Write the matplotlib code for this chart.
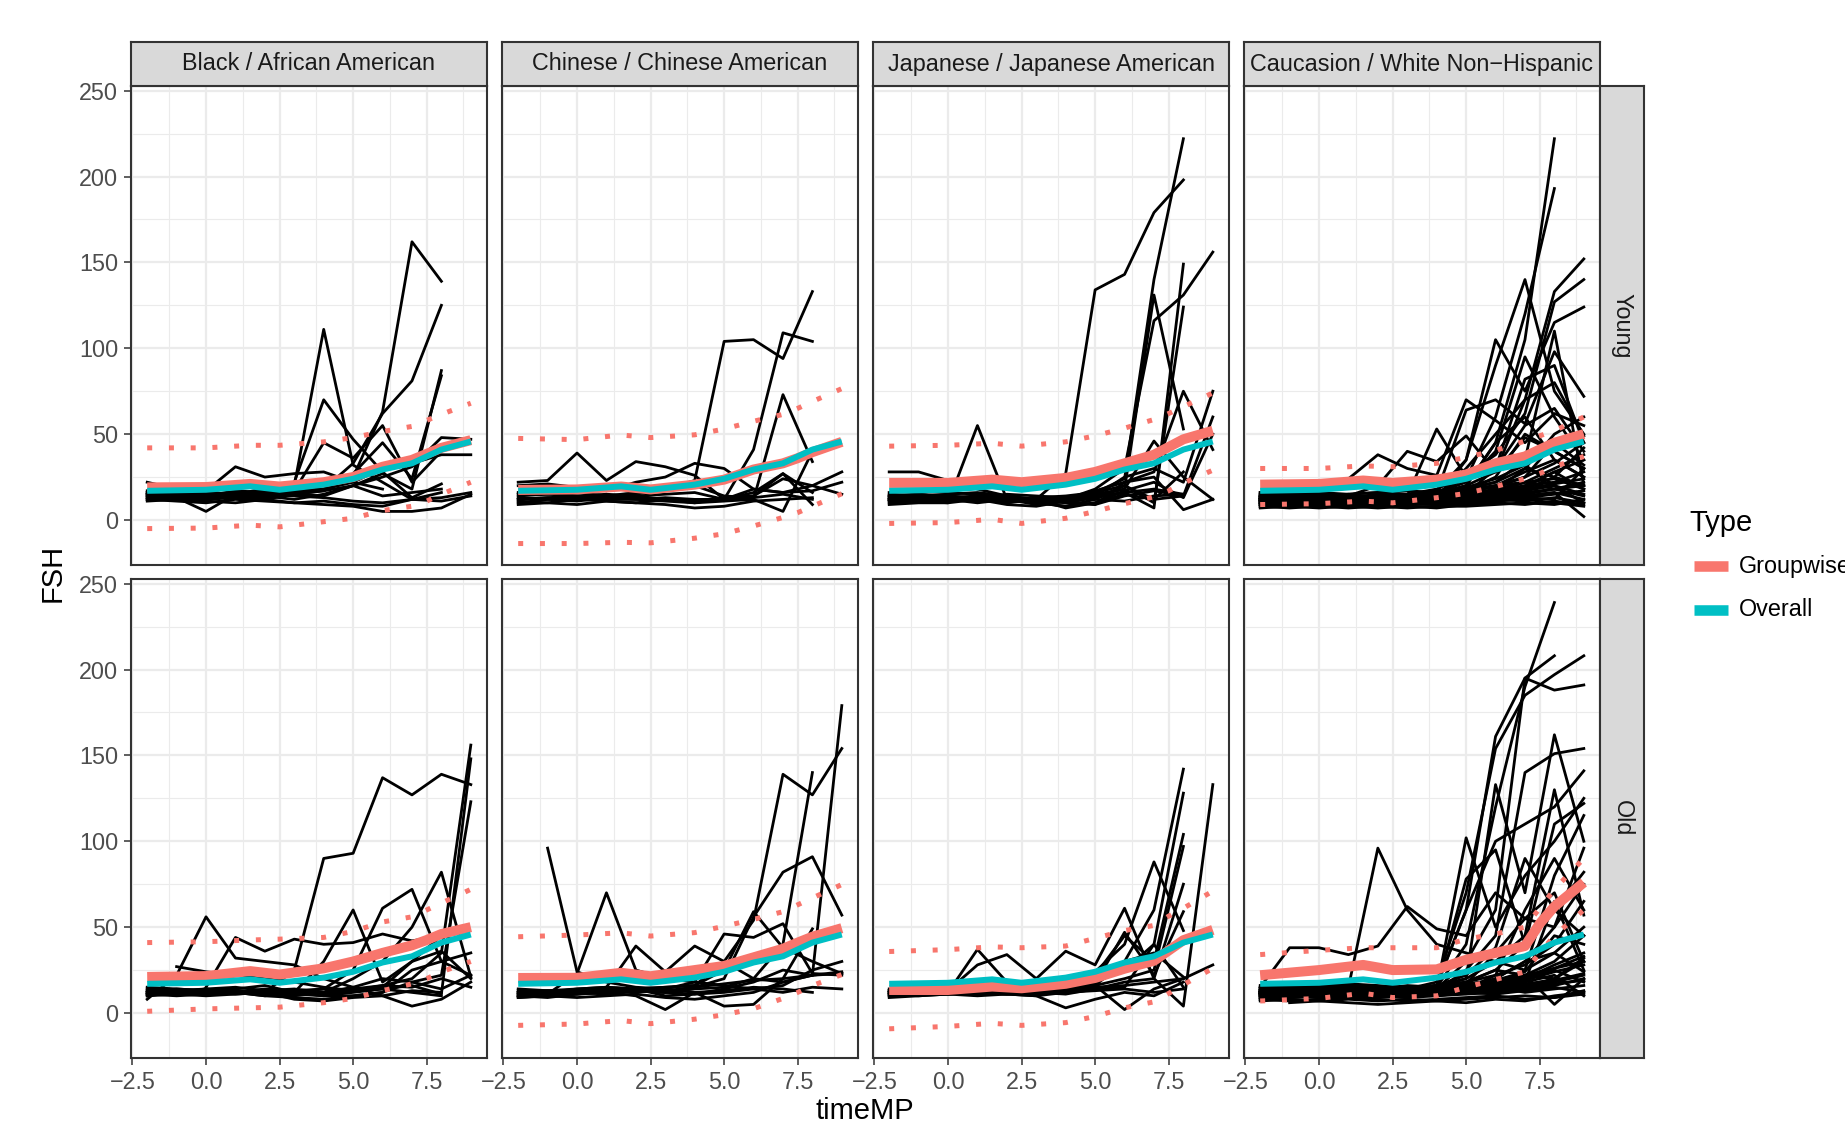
import numpy as np
import matplotlib
matplotlib.use("Agg")
import matplotlib.pyplot as plt
from matplotlib.lines import Line2D

plt.rcParams['font.family'] = ['Liberation Sans', 'DejaVu Sans']

# facet labels
races = ["Black / African American", "Chinese / Chinese American",
         "Japanese / Japanese American", "Caucasion / White Non\u2212Hispanic"]
ages = ["Young", "Old"]

# individual FSH trajectories, each (first timeMP, values at consecutive years)
black_young = [
    (-2, [14, 13, 12, 15, 14, 20, 111, 32, 22, 12, 16]),
    (-2, [12, 14, 13, 15, 12, 22, 70, 47, 28, 13, 21]),
    (-2, [16, 15, 17, 14, 19, 17, 45, 36, 55, 22, 40]),
    (-2, [15, 16, 14, 17, 16, 17, 18, 33, 62, 81, 125]),
    (-2, [13, 12, 14, 13, 12, 15, 14, 20, 27, 18, 87]),
    (-2, [14, 13, 15, 14, 16, 15, 17, 27, 45, 24, 84]),
    (-2, [16, 15, 14, 15, 13, 16, 20, 25, 63, 162, 139]),
    (-2, [15, 14, 16, 15, 14, 15, 17, 20, 25, 31, 48, 47]),
    (-2, [17, 16, 15, 16, 17, 16, 18, 22, 30, 33, 38, 38]),
    (-2, [12, 11, 10, 12, 11, 10, 9, 8, 5, 5, 7, 15]),
    (-2, [11, 12, 11, 10, 12, 10, 11, 9, 8, 12, 13, 16]),
    (-2, [22, 18, 17, 31, 25, 27, 28, 22, 18]),
    (-2, [15, 13, 5, 15, 14, 12, 15, 20, 14, 16, 18]),
    (-2, [13, 14, 12, 13, 15, 14, 13, 11, 10, 12, 11, 14]),
]
chinese_young = [
    (-2, [14, 15, 14, 13, 15, 18, 23, 104, 105, 94, 133]),
    (-2, [12, 13, 12, 14, 13, 12, 12, 12, 41, 109, 104]),
    (-2, [13, 12, 13, 12, 14, 15, 16, 12, 12, 73, 34]),
    (-2, [22, 23, 39, 23, 34, 31, 26, 12, 16, 27, 9]),
    (-2, [20, 21, 19, 17, 22, 25, 33, 30, 18, 16, 20, 28]),
    (-2, [11, 10, 12, 11, 10, 12, 10, 11, 12, 5, 40]),
    (-2, [10, 12, 11, 13, 12, 11, 10, 13, 14, 27, 16]),
    (-2, [15, 16, 14, 15, 14, 12, 11, 12, 18, 16, 17, 22]),
    (-2, [12, 13, 14, 12, 12, 13, 12, 12, 14, 24, 20, 15]),
    (-2, [9, 10, 9, 11, 10, 9, 7, 8, 11, 12, 13]),
    (-2, [16, 15, 16, 14, 16, 17, 20, 14, 13, 15, 12]),
]
japanese_young = [
    (-2, [13, 12, 14, 12, 10, 12, 27, 134, 143, 179, 198]),
    (-2, [12, 13, 11, 12, 10, 13, 14, 16, 24, 140, 222]),
    (-2, [14, 15, 13, 14, 12, 11, 13, 15, 18, 131, 53]),
    (-2, [11, 12, 12, 13, 12, 10, 12, 18, 30, 116, 131, 156]),
    (-2, [12, 11, 13, 12, 11, 12, 13, 14, 16, 7, 149]),
    (-2, [13, 14, 12, 11, 13, 12, 11, 16, 20, 10, 124]),
    (-2, [14, 13, 12, 14, 13, 11, 12, 17, 22, 28, 75, 41]),
    (-2, [10, 11, 12, 10, 12, 9, 11, 14, 25, 30, 22, 75]),
    (-2, [9, 10, 10, 55, 12, 10, 8, 12, 20, 12, 14, 60]),
    (-2, [28, 28, 23, 18, 14, 12, 10, 9, 22, 25, 6, 12]),
    (-2, [16, 17, 16, 15, 14, 10, 12, 14, 18, 46, 25, 12]),
    (-2, [12, 13, 12, 13, 11, 12, 7, 10, 15, 12, 28]),
    (-2, [11, 12, 12, 11, 12, 10, 8, 10, 17, 22, 13, 50]),
    (-2, [15, 14, 15, 16, 14, 12, 10, 13, 16, 18, 15]),
    (-2, [12, 11, 10, 12, 9, 8, 11, 9, 14, 17, 14]),
    (-2, [14, 15, 14, 13, 15, 14, 13, 12, 11, 14, 15]),
]
white_young = [
    (-2, [14, 13, 12, 13, 14, 12, 15, 20, 45, 105, 222]),
    (-2, [12, 13, 14, 12, 13, 14, 16, 24, 60, 120, 193]),
    (-2, [15, 14, 13, 15, 12, 13, 17, 35, 90, 140, 75, 50]),
    (-2, [13, 12, 14, 13, 14, 12, 14, 30, 50, 70, 133, 152]),
    (-2, [12, 14, 13, 14, 12, 15, 18, 26, 38, 62, 127, 140]),
    (-2, [11, 12, 13, 12, 13, 14, 12, 35, 105, 75, 115, 124]),
    (-2, [14, 13, 12, 13, 15, 13, 16, 64, 70, 56, 98, 72]),
    (-2, [12, 11, 13, 12, 12, 14, 53, 25, 30, 82, 90, 45]),
    (-2, [13, 14, 12, 12, 13, 12, 15, 20, 28, 70, 80, 49]),
    (-2, [16, 15, 17, 24, 38, 30, 26, 70, 58, 45, 62, 55]),
    (-2, [14, 16, 15, 14, 20, 40, 34, 49, 28, 48, 40, 30]),
    (-2, [12, 13, 12, 13, 14, 13, 16, 22, 40, 95, 60, 35]),
    (-2, [13, 12, 13, 14, 12, 14, 13, 18, 22, 35, 110, 20]),
    (-2, [11, 12, 11, 12, 13, 12, 14, 16, 20, 25, 45, 32]),
    (-2, [12, 11, 12, 11, 12, 13, 12, 15, 18, 22, 30, 38]),
    (-2, [10, 11, 10, 11, 12, 11, 10, 13, 15, 18, 25, 42]),
    (-2, [11, 10, 11, 10, 11, 10, 12, 14, 16, 20, 22, 28]),
    (-2, [9, 10, 9, 10, 9, 10, 11, 12, 13, 15, 18, 20]),
    (-2, [10, 9, 10, 9, 10, 9, 10, 11, 12, 14, 16, 2]),
    (-2, [13, 12, 11, 12, 11, 12, 11, 13, 14, 17, 20, 15]),
    (-2, [9, 8, 9, 8, 9, 10, 9, 10, 12, 11, 13, 10]),
    (-2, [12, 13, 12, 11, 12, 11, 13, 12, 15, 14, 16, 12]),
    (-2, [10, 11, 12, 13, 12, 13, 14, 16, 20, 28, 35, 25]),
    (-2, [14, 13, 14, 13, 14, 15, 16, 18, 22, 30, 50, 60]),
    (-2, [11, 12, 11, 12, 11, 12, 13, 15, 17, 20, 28, 18]),
    (-2, [8, 9, 8, 9, 8, 9, 10, 9, 11, 12, 10, 8]),
    (-2, [15, 14, 13, 14, 13, 14, 15, 17, 19, 25, 33, 45]),
    (-2, [10, 11, 10, 11, 10, 11, 10, 12, 14, 13, 12, 30]),
    (-2, [12, 12, 13, 12, 13, 12, 14, 15, 30, 55, 65, 40]),
    (-2, [13, 12, 12, 13, 12, 14, 15, 20, 45, 60, 35, 25]),
    (-2, [11, 12, 13, 12, 11, 13, 14, 17, 25, 50, 40, 30]),
    (-2, [9, 10, 11, 10, 11, 10, 12, 13, 16, 22, 18, 14]),
    (-2, [10, 9, 10, 11, 10, 11, 12, 14, 17, 30, 25, 20]),
    (-2, [14, 15, 14, 15, 16, 15, 17, 19, 24, 32, 20, 10]),
    (-2, [12, 11, 12, 13, 12, 11, 12, 13, 15, 19, 28, 35]),
    (-2, [7, 8, 7, 8, 7, 8, 7, 9, 10, 9, 11, 9]),
    (-2, [8, 7, 8, 7, 8, 7, 8, 8, 9, 10, 9, 12]),
    (-2, [16, 17, 16, 15, 16, 17, 16, 18, 20, 22, 24, 18]),
    (-2, [9, 9, 10, 9, 10, 9, 9, 10, 11, 13, 15, 17]),
    (-2, [11, 11, 12, 11, 12, 11, 12, 13, 14, 16, 18, 22]),
    (-2, [13, 13, 14, 13, 14, 13, 13, 14, 16, 18, 21, 24]),
]
black_old = [
    (-2, [10, 12, 11, 13, 12, 25, 90, 93, 137, 127, 139, 133]),
    (-2, [12, 11, 13, 12, 10, 12, 14, 13, 16, 20, 35, 156]),
    (-2, [11, 13, 12, 11, 12, 10, 12, 15, 20, 18, 22, 123]),
    (-2, [13, 12, 14, 12, 13, 11, 10, 12, 14, 16, 11, 148]),
    (-2, [12, 14, 13, 12, 14, 13, 12, 20, 30, 50, 82, 21]),
    (-2, [11, 12, 12, 13, 12, 13, 14, 25, 61, 72, 30, 35]),
    (-2, [13, 12, 14, 15, 13, 12, 30, 60, 18, 30, 36, 20]),
    (-2, [8, 22, 56, 32, 30, 28, 20, 15, 10, 13, 12]),
    (0, [15, 44, 36, 43, 40, 41, 46, 42, 45]),
    (-1, [27, 24, 22, 20, 18, 15, 13, 14, 12, 10]),
    (-2, [12, 11, 12, 13, 11, 12, 10, 10, 12, 18, 14, 22]),
    (-2, [10, 11, 10, 11, 12, 8, 7, 9, 10, 4, 8, 18]),
    (-2, [14, 13, 14, 12, 13, 14, 12, 14, 16, 15, 20, 15]),
    (-2, [11, 10, 11, 12, 10, 9, 8, 10, 12, 25, 30, 22]),
    (-2, [15, 14, 13, 14, 16, 12, 11, 13, 15, 30, 45]),
]
chinese_old = [
    (-1, [96, 24, 18, 15, 14, 12, 13, 15, 14, 12]),
    (-2, [10, 11, 23, 70, 25, 20, 18, 16, 14, 12, 15, 14]),
    (-2, [12, 13, 14, 15, 39, 24, 39, 30, 20, 18, 22, 23]),
    (-2, [11, 12, 13, 12, 14, 15, 16, 30, 54, 139, 127, 154]),
    (-2, [9, 10, 11, 12, 13, 12, 14, 15, 20, 40, 140]),
    (-2, [10, 11, 12, 11, 13, 12, 11, 14, 18, 25, 22, 179]),
    (-2, [13, 12, 14, 15, 14, 13, 15, 20, 56, 82, 91, 57]),
    (-2, [12, 11, 13, 12, 14, 15, 16, 25, 59, 38, 30, 23]),
    (-2, [11, 12, 11, 13, 12, 14, 18, 46, 44, 52, 23, 22]),
    (-2, [10, 9, 11, 12, 10, 2, 12, 4, 5, 20, 49]),
    (-2, [14, 13, 12, 14, 13, 12, 15, 17, 19, 20, 22, 24]),
    (-2, [12, 13, 12, 15, 14, 10, 11, 12, 14, 16, 25, 30]),
    (-2, [9, 10, 9, 10, 11, 9, 8, 10, 12, 18, 22]),
]
japanese_old = [
    (-2, [12, 11, 12, 13, 12, 14, 15, 20, 30, 60, 142]),
    (-2, [11, 12, 11, 12, 13, 12, 14, 18, 25, 40, 128]),
    (-2, [13, 12, 13, 12, 11, 13, 15, 22, 45, 30, 104]),
    (-2, [10, 11, 12, 11, 12, 11, 13, 16, 20, 25, 97]),
    (-2, [12, 13, 12, 37, 18, 14, 16, 24, 40, 88, 48]),
    (-2, [11, 12, 13, 28, 34, 20, 36, 28, 61, 20, 75]),
    (-2, [14, 13, 12, 13, 14, 15, 13, 17, 47, 22, 59]),
    (-2, [12, 11, 12, 11, 12, 13, 12, 14, 18, 20, 4, 133]),
    (-2, [13, 14, 13, 14, 13, 12, 13, 16, 2, 14, 20, 28]),
    (-2, [10, 12, 11, 12, 11, 10, 3, 8, 12, 10, 18]),
    (-2, [12, 13, 14, 13, 12, 14, 13, 15, 16, 18, 20]),
    (-2, [11, 10, 11, 12, 11, 12, 11, 14, 15, 40, 15]),
    (-2, [13, 12, 13, 14, 13, 14, 15, 16, 30, 35, 21]),
    (-2, [9, 10, 11, 10, 11, 10, 12, 13, 14, 12, 14]),
]
white_old = [
    (-2, [12, 13, 12, 14, 13, 12, 15, 40, 120, 190, 239]),
    (-2, [11, 12, 13, 12, 14, 13, 16, 60, 161, 195, 208]),
    (-2, [13, 12, 14, 13, 12, 14, 18, 70, 154, 185, 197, 208]),
    (-2, [12, 14, 13, 12, 13, 12, 14, 30, 60, 195, 188, 191]),
    (-2, [14, 13, 12, 13, 14, 13, 16, 20, 133, 70, 162, 100]),
    (-2, [12, 11, 13, 12, 12, 14, 13, 25, 45, 140, 151, 154]),
    (-2, [13, 12, 14, 13, 15, 14, 16, 60, 100, 110, 120, 141]),
    (-2, [11, 12, 11, 12, 13, 12, 14, 102, 50, 80, 100, 125]),
    (-2, [12, 13, 14, 13, 12, 13, 15, 78, 95, 40, 110, 122]),
    (-2, [13, 14, 13, 15, 96, 60, 40, 35, 30, 25, 80, 115]),
    (-2, [15, 38, 38, 34, 39, 62, 49, 45, 70, 55, 50, 96]),
    (-2, [12, 13, 12, 14, 13, 12, 16, 22, 38, 90, 60, 82]),
    (-2, [11, 12, 12, 13, 14, 13, 15, 20, 30, 45, 130, 57]),
    (-2, [12, 11, 12, 11, 12, 13, 14, 18, 25, 22, 20, 32]),
    (-2, [10, 11, 12, 11, 10, 12, 13, 15, 20, 30, 35, 24]),
    (-2, [11, 10, 11, 12, 11, 10, 11, 13, 16, 20, 25, 18]),
    (-2, [9, 10, 9, 10, 9, 10, 11, 12, 15, 18, 22, 10]),
    (-2, [13, 14, 13, 14, 15, 14, 15, 16, 18, 22, 5, 20]),
    (-2, [12, 13, 14, 13, 14, 15, 14, 16, 18, 20, 28, 35]),
    (-2, [10, 9, 10, 11, 10, 11, 12, 14, 17, 22, 30, 45]),
    (-2, [8, 9, 10, 9, 10, 9, 11, 12, 14, 16, 20, 30]),
    (-2, [14, 15, 14, 15, 14, 16, 15, 18, 22, 28, 40, 65]),
    (-2, [12, 11, 12, 13, 12, 13, 12, 14, 16, 25, 35, 50]),
    (-2, [11, 12, 11, 12, 11, 12, 13, 15, 20, 30, 50, 75]),
    (-2, [13, 12, 13, 12, 13, 12, 14, 16, 19, 24, 45, 40]),
    (-2, [9, 10, 9, 10, 11, 10, 11, 13, 15, 12, 14, 16]),
    (-2, [10, 11, 10, 9, 10, 11, 10, 12, 11, 13, 15, 12]),
    (-2, [12, 13, 12, 11, 12, 11, 12, 13, 14, 16, 18, 22]),
    (-2, [11, 10, 11, 10, 11, 12, 11, 12, 13, 15, 17, 19]),
    (-2, [15, 14, 15, 16, 15, 14, 16, 18, 25, 40, 60, 45]),
    (-2, [13, 14, 13, 12, 13, 14, 15, 17, 35, 55, 70, 30]),
    (-2, [10, 11, 12, 11, 12, 11, 12, 14, 22, 60, 90, 60]),
    (-2, [12, 11, 10, 11, 10, 12, 11, 13, 15, 18, 65, 25]),
    (-2, [11, 12, 13, 12, 11, 12, 13, 14, 16, 19, 24, 28]),
    (-2, [14, 13, 12, 13, 12, 13, 14, 15, 17, 21, 26, 33]),
    (-2, [7, 8, 7, 8, 7, 8, 7, 8, 9, 10, 9, 11]),
    (-2, [8, 7, 8, 9, 8, 7, 8, 9, 10, 8, 9, 13]),
    (-1, [6, 7, 6, 5, 6, 7, 6, 8, 7, 10, 12]),
    (-2, [16, 15, 16, 17, 16, 15, 16, 17, 19, 22, 26, 30]),
    (-2, [9, 9, 10, 9, 10, 9, 10, 11, 12, 14, 16, 20]),
    (-2, [11, 11, 12, 11, 12, 11, 11, 12, 14, 17, 19, 23]),
]

# smooth fits, read at these timeMP values
smooth_x = [-2, 0, 1.5, 2.5, 4, 5, 6, 7, 7.5, 8, 9]
overall = [17, 17.6, 19.6, 17.6, 20.6, 24, 29.4, 33, 37, 41, 45.7]

group_young = [
    [19, 19.2, 21, 19.5, 22, 25, 31, 35, 38.5, 42, 46.5],
    [17.5, 17.8, 19.5, 17.8, 20.6, 23.5, 29.4, 33, 36, 39.5, 45.5],
    [21.6, 21.6, 23.5, 22, 24.5, 28, 33, 38, 42.5, 47, 52],
    [20.6, 21, 23, 21.6, 23.5, 26.5, 33, 37, 41, 45, 50],
]
group_old = [
    [21, 21.5, 24.4, 22.4, 26, 30, 35, 39.4, 42.5, 46, 50],
    [20.4, 20.5, 23.4, 21.4, 25, 27.4, 32.4, 37.4, 41, 44.4, 49.4],
    [13.4, 13.4, 15.4, 14.4, 17, 20.4, 25.8, 30.4, 36.4, 42.4, 48.4],
    [22, 25, 28, 25, 25.4, 31, 35, 39, 52, 62, 76],
]
upper_young = [
    [42, 42, 43.5, 43.5, 45.5, 48, 51.5, 54.5, 58, 61.5, 68],
    [47.5, 46.8, 49.5, 48, 49.6, 53, 57.5, 61.5, 65, 69, 76.5],
    [43, 43.5, 44.7, 43, 45.5, 49, 53.5, 58.5, 62, 66, 74],
    [30, 30, 31.5, 31, 33, 36.5, 40.5, 46, 49, 52, 60],
]
lower_young = [
    [-5, -4.7, -3, -4, -1, 1, 5.5, 8, 11, 15, 22],
    [-13.7, -13.7, -13, -13.3, -10.6, -8, -3.5, 1.5, 4.3, 8, 15.3],
    [-2, -1.5, 0.4, -2, 1, 5, 9.5, 13.5, 17, 21.5, 29],
    [9, 9.5, 11, 10, 13, 15.5, 19.5, 24, 27, 31, 37],
]
upper_old = [
    [41, 41.5, 42.5, 43, 44, 47.5, 53, 56, 60, 64, 72],
    [44.4, 45.4, 46.7, 44.8, 46.8, 50.5, 54.5, 59, 63, 67, 74.8],
    [35.8, 36.9, 38.5, 38, 39, 43.5, 48, 51, 56.4, 61, 71],
    [34, 36.5, 38, 38, 38, 43, 46, 50, 61, 72, 90],
]
lower_old = [
    [1, 2.4, 3, 3.4, 6, 8.5, 13, 17, 20, 24, 30],
    [-7.2, -6.4, -4.4, -6.2, -3.6, -1, 2.5, 8.5, 12, 16, 22.4],
    [-9.2, -7.8, -6, -7.2, -5.6, -2, 3, 6.5, 11.4, 16.5, 26],
    [7, 8.5, 11.5, 9, 10, 15, 19.5, 24, 35, 45, 60],
]

RED = "#F8766D"
CYAN = "#00BFC4"
BORDER = "#333333"
W, H = 1845, 1125


def fig_rect(x0, y0, w, h):
    # pixel box (top-left origin) to figure fraction
    return [x0 / W, 1 - (y0 + h) / H, w / W, h / H]


def draw_panel(ax, lines, group, upper, lower):
    for start, vals in lines:
        xs = start + np.arange(len(vals))
        ax.plot(xs, vals, color="black", lw=2.0, zorder=2)
    for band in (upper, lower):
        ax.plot(smooth_x, band, color=RED, lw=3.6, linestyle=(0, (1, 3.35)),
                dash_capstyle="butt", zorder=3)
    ax.plot(smooth_x, group, color=RED, lw=7.2, solid_capstyle="butt", zorder=4)
    ax.plot(smooth_x, overall, color=CYAN, lw=4.3, solid_capstyle="butt", zorder=5)

    ax.set_xlim(-2.55, 9.55)
    ax.set_ylim(-26.2, 252.7)
    ax.set_xticks([-2.5, 0, 2.5, 5, 7.5])
    ax.set_xticks([-1.25, 1.25, 3.75, 6.25, 8.75], minor=True)
    ax.set_yticks([0, 50, 100, 150, 200, 250])
    ax.set_yticks([25, 75, 125, 175, 225], minor=True)
    ax.grid(which="major", color="#EBEBEB", lw=1.6, zorder=0)
    ax.grid(which="minor", color="#EBEBEB", lw=0.8, zorder=0)
    ax.set_axisbelow(True)
    for sp in ax.spines.values():
        sp.set_color(BORDER)
        sp.set_linewidth(1.5)
    ax.tick_params(which="minor", length=0)
    ax.tick_params(which="major", length=5.3, width=1.1, color=BORDER,
                   labelsize=16.8, labelcolor="#4D4D4D", pad=4)


def strip(rect, text, rotation=0):
    sax = fig.add_axes(fig_rect(*rect))
    sax.set_facecolor("#D9D9D9")
    sax.set_xticks([])
    sax.set_yticks([])
    for sp in sax.spines.values():
        sp.set_color(BORDER)
        sp.set_linewidth(1.5)
    sax.text(0.5, 0.5, text, transform=sax.transAxes, ha="center", va="center",
             fontsize=16.8, color="#1A1A1A", rotation=rotation)


fig = plt.figure(figsize=(18.45, 11.25), dpi=100)

col_left = [131, 502, 873, 1244]
row_top = [86, 579]
pw, ph = 356, 479

indiv = [[black_young, chinese_young, japanese_young, white_young],
         [black_old, chinese_old, japanese_old, white_old]]
groups = [group_young, group_old]
uppers = [upper_young, upper_old]
lowers = [lower_young, lower_old]

for r in range(2):
    for c in range(4):
        ax = fig.add_axes(fig_rect(col_left[c], row_top[r], pw, ph))
        draw_panel(ax, indiv[r][c], groups[r][c], uppers[r][c], lowers[r][c])
        if c == 0:
            ax.set_yticklabels(["0", "50", "100", "150", "200", "250"])
        else:
            ax.tick_params(axis="y", which="both", left=False, labelleft=False)
        if r == 1:
            ax.set_xticklabels(["\u22122.5", "0.0", "2.5", "5.0", "7.5"])
        else:
            ax.tick_params(axis="x", which="both", bottom=False, labelbottom=False)

# facet strips
for c in range(4):
    strip((col_left[c], 42, pw, 44), races[c])
for r in range(2):
    strip((col_left[3] + pw, row_top[r], 44, ph), ages[r], rotation=270)

# axis titles
fig.text(53 / W, 1 - 573 / H, "FSH", rotation=90, ha="center", va="center",
         fontsize=21, color="black")
fig.text(865 / W, 1 - 1111 / H, "timeMP", ha="center", va="center",
         fontsize=21, color="black")

# legend (the reference cuts the first label at the right edge)
fig.text(1689 / W, 1 - 523 / H, "Type", ha="left", va="center", fontsize=21)
for yk, col, lab in [(566, RED, "Groupwise"), (610, CYAN, "Overall")]:
    fig.add_artist(Line2D([1694 / W, 1728 / W], [1 - yk / H, 1 - yk / H],
                          color=col, lw=7.6, solid_capstyle="butt"))
    fig.text(1739 / W, 1 - yk / H, lab, ha="left", va="center", fontsize=16.8)

fig.savefig("out.png", dpi=100)
